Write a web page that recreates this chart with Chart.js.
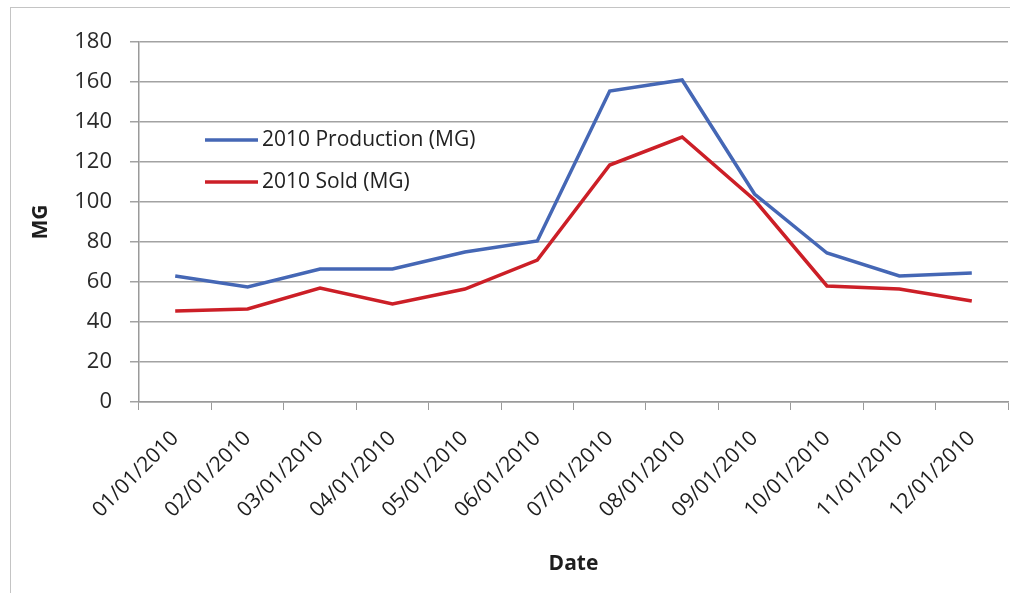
<!DOCTYPE html>
<html>
<head>
<meta charset="utf-8">
<script src="https://cdn.jsdelivr.net/npm/chart.js@4"></script>
<style>
  html, body { margin: 0; padding: 0; background: #fff; }
  #wrap { position: relative; width: 1010px; height: 593px; overflow: hidden; }
  #frame { position: absolute; left: 10px; top: 7px; width: 1100px; height: 700px; border: 1px solid #c4c4c4; }
  canvas { position: absolute; left: 0; top: 0; }
</style>
</head>
<body>
<div id="wrap">
  <div id="frame"></div>
  <canvas id="prodChart" width="1010" height="593"></canvas>
</div>
<script>
const dates = ['01/01/2010', '02/01/2010', '03/01/2010', '04/01/2010', '05/01/2010', '06/01/2010',
               '07/01/2010', '08/01/2010', '09/01/2010', '10/01/2010', '11/01/2010', '12/01/2010'];
const production = [63, 57.5, 66.5, 66.5, 75, 80.5, 155.5, 161, 104, 74.5, 63, 64.5];
const sold = [45.5, 46.5, 57, 49, 56.5, 71, 118.5, 132.5, 101, 58, 56.5, 50.5];
const yTicks = [0, 20, 40, 60, 80, 100, 120, 140, 160, 180];

const FONT = '"Open Sans", "DejaVu Sans", sans-serif';

// legend sits inside the plot area, like the Excel original
const insideLegend = {
    id: 'insideLegend',
    afterDatasetsDraw(chart) {
        const c = chart.ctx;
        const x = chart.scales.x;
        const y = chart.scales.y;
        const lx = x.left + 66;
        const ys = [y.getPixelForValue(131), y.getPixelForValue(110)];
        chart.data.datasets.forEach((ds, i) => {
            c.save();
            c.strokeStyle = ds.borderColor;
            c.lineWidth = 3.5;
            c.beginPath();
            c.moveTo(lx, ys[i]);
            c.lineTo(lx + 53, ys[i]);
            c.stroke();
            c.fillStyle = '#222';
            c.font = '21px ' + FONT;
            c.textBaseline = 'middle';
            c.fillText(ds.label, lx + 57, ys[i]);
            c.restore();
        });
    }
};

const ctx = document.getElementById('prodChart').getContext('2d');
const prodChart = new Chart(ctx, {
    type: 'line',
    data: {
        labels: dates,
        datasets: [
            {
                label: '2010 Production (MG)',
                data: production,
                borderColor: '#4567b5',
                borderWidth: 3.5,
                pointRadius: 0,
                tension: 0
            },
            {
                label: '2010 Sold (MG)',
                data: sold,
                borderColor: '#cc1f27',
                borderWidth: 3.5,
                pointRadius: 0,
                tension: 0
            }
        ]
    },
    options: {
        responsive: false,
        animation: false,
        layout: { padding: { left: 0, top: 42, right: 2, bottom: 0 } },
        plugins: {
            legend: { display: false },
            tooltip: { enabled: false }
        },
        scales: {
            x: {
                offset: true,
                grid: {
                    offset: true,
                    drawOnChartArea: false,
                    drawTicks: true,
                    tickLength: 8,
                    color: '#9a9a9a'
                },
                border: { display: true, color: '#9a9a9a', width: 1.5 },
                ticks: {
                    minRotation: 45,
                    maxRotation: 45,
                    padding: 16,
                    color: '#1e1e1e',
                    font: { family: FONT, size: 21 }
                },
                title: {
                    display: true,
                    text: 'Date',
                    color: '#1e1e1e',
                    font: { family: FONT, size: 21, weight: 'bold' },
                    padding: { top: 0, bottom: 16 }
                },
                afterFit(scale) { scale.height = 191; }
            },
            y: {
                min: 0,
                max: 180,
                afterBuildTicks(scale) { scale.ticks = yTicks.map(v => ({ value: v })); },
                grid: {
                    color: '#a2a2a2',
                    lineWidth: 1.5,
                    tickLength: 9
                },
                border: { display: true, color: '#9a9a9a', width: 1.5 },
                ticks: {
                    padding: 18,
                    color: '#2a2a2a',
                    font: { family: FONT, size: 22 }
                },
                title: {
                    display: true,
                    text: 'MG',
                    color: '#1e1e1e',
                    font: { family: FONT, size: 21, weight: 'bold' },
                    padding: { top: 28, bottom: 0 }
                },
                afterFit(scale) { scale.width = 139; }
            }
        }
    },
    plugins: [insideLegend]
});
</script>
</body>
</html>
